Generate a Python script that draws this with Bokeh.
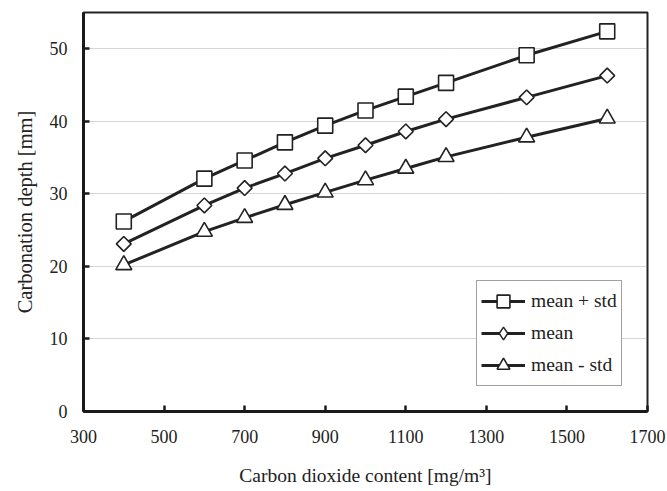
import math
from bokeh.plotting import figure
from bokeh.models import Range1d, FixedTicker, Legend, LegendItem
from bokeh.embed import file_html
from bokeh.resources import INLINE

co2 = [400, 600, 700, 800, 900, 1000, 1100, 1200, 1400, 1600]
mean_plus_std = [26.2, 32.1, 34.6, 37.1, 39.4, 41.5, 43.4, 45.3, 49.1, 52.4]
mean_vals = [23.1, 28.4, 30.8, 32.8, 34.9, 36.7, 38.6, 40.3, 43.3, 46.3]
mean_minus_std = [20.2, 24.8, 26.7, 28.5, 30.2, 31.9, 33.5, 35.1, 37.8, 40.4]
x_ticks = [300, 500, 700, 900, 1100, 1300, 1500, 1700]
y_ticks = [0, 10, 20, 30, 40, 50]

FONT = "Liberation Serif"

p = figure(width=667, height=491, output_backend="svg", toolbar_location=None,
           x_range=Range1d(300, 1700), y_range=Range1d(0, 55))
p.min_border_left = 83
p.min_border_right = 20
p.min_border_top = 12
p.min_border_bottom = 80
p.background_fill_color = "white"
p.border_fill_color = "white"
p.outline_line_color = "#222222"
p.outline_line_width = 2

p.xgrid.grid_line_color = None
p.ygrid.grid_line_color = "#aaaaaa"
p.ygrid.grid_line_dash = "1 1"
p.ygrid.grid_line_width = 1
p.ygrid.ticker = FixedTicker(ticks=[10, 20, 30, 40, 50])

for ax in (p.xaxis[0], p.yaxis[0]):
    ax.axis_line_width = 3
    ax.axis_line_color = "#1a1a1a"
    ax.major_tick_in = 6
    ax.major_tick_out = 0
    ax.major_tick_line_width = 2.5
    ax.major_tick_line_color = "#1a1a1a"
    ax.minor_tick_line_color = None
    ax.major_label_text_font = FONT
    ax.major_label_text_font_size = "18px"
    ax.major_label_text_color = "#222222"
    ax.axis_label_text_font = FONT
    ax.axis_label_text_font_style = "normal"
    ax.axis_label_text_color = "#222222"

p.xaxis.axis_label_text_font_size = "19.5px"
p.yaxis.axis_label_text_font_size = "20.5px"
p.xaxis.ticker = FixedTicker(ticks=x_ticks)
p.yaxis.ticker = FixedTicker(ticks=y_ticks)
p.xaxis.major_label_standoff = 18
p.yaxis.major_label_standoff = 16
p.xaxis.axis_label = "Carbon dioxide content [mg/m\u00b3]"
p.yaxis.axis_label = "Carbonation depth [mm]"
p.xaxis.axis_label_standoff = 19
p.yaxis.axis_label_standoff = 11

C = "#222222"
l1 = p.line(co2, mean_plus_std, line_color=C, line_width=3)
s1 = p.scatter(co2, mean_plus_std, marker="square", size=15, fill_color="white",
               line_color=C, line_width=1.6)
l2 = p.line(co2, mean_vals, line_color=C, line_width=3)
# diamond used for the legend entry (hidden beneath the rotated squares)
s2_leg = p.scatter(co2, mean_vals, marker="diamond", size=9, fill_color="white",
                   line_color=C, line_width=1.4)
s2 = p.scatter(co2, mean_vals, marker="square", size=10.5, angle=math.pi / 4,
               fill_color="white", line_color=C, line_width=1.6)
l3 = p.line(co2, mean_minus_std, line_color=C, line_width=3)
s3 = p.scatter(co2, mean_minus_std, marker="triangle", size=16, fill_color="white",
               line_color=C, line_width=1.6)

legend = Legend(items=[
    LegendItem(label="mean + std", renderers=[l1, s1]),
    LegendItem(label="mean", renderers=[l2, s2_leg]),
    LegendItem(label="mean - std", renderers=[l3, s3]),
], location=(393, 25))
legend.label_text_font = FONT
legend.label_text_font_size = "19.5px"
legend.label_text_color = C
legend.border_line_color = "#444444"
legend.border_line_width = 1
legend.background_fill_alpha = 1
legend.glyph_width = 44
legend.glyph_height = 32
legend.spacing = -4
legend.padding = 4
legend.margin = 0
legend.label_standoff = 6
p.add_layout(legend)

open("out.html", "w").write(file_html(p, INLINE))
